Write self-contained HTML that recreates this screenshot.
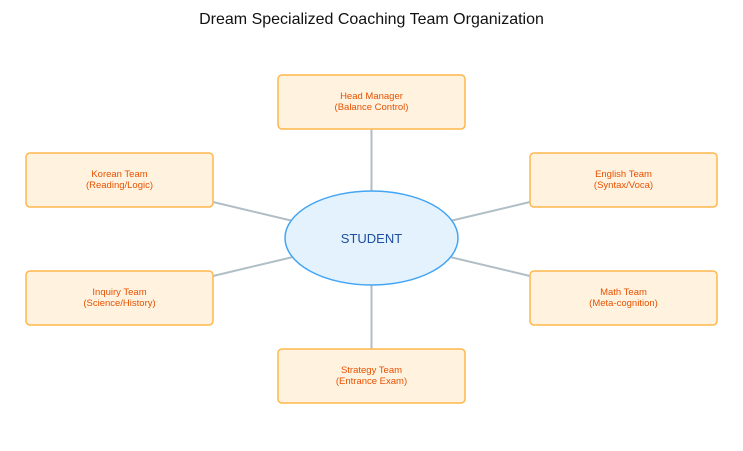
<!DOCTYPE html>
<html><head><style>
body{margin:0;width:743px;height:446px;background:#fff;overflow:hidden}
</style></head><body>
<svg width="743" height="446" xmlns="http://www.w3.org/2000/svg" font-family="Liberation Sans, sans-serif">
<text x="371.5" y="24" text-anchor="middle" font-size="16" fill="#111">Dream Specialized Coaching Team Organization</text>
<g stroke="#b0bec5" stroke-width="2">
<line x1="371.5" y1="129" x2="371.5" y2="191"/>
<line x1="371.5" y1="285" x2="371.5" y2="349"/>
<line x1="213" y1="202" x2="293" y2="221"/>
<line x1="213" y1="276" x2="293" y2="257"/>
<line x1="530" y1="202" x2="450" y2="221"/>
<line x1="530" y1="276" x2="450" y2="257"/>
</g>
<ellipse cx="371.5" cy="238" rx="86.5" ry="47" fill="#e3f2fd" stroke="#42a5f5" stroke-width="1.5"/>
<text x="371.5" y="243" text-anchor="middle" font-size="13" fill="#1e4fa0">STUDENT</text>
<g fill="#fff3e0" stroke="#ffb74d" stroke-width="1.5">
<rect x="278" y="75" width="187" height="54" rx="4"/>
<rect x="26" y="153" width="187" height="54" rx="4"/>
<rect x="530" y="153" width="187" height="54" rx="4"/>
<rect x="26" y="271" width="187" height="54" rx="4"/>
<rect x="530" y="271" width="187" height="54" rx="4"/>
<rect x="278" y="349" width="187" height="54" rx="4"/>
</g>
<g font-size="9.5" fill="#e65100" text-anchor="middle">
<text x="371.5" y="99">Head Manager</text><text x="371.5" y="110">(Balance Control)</text>
<text x="119.5" y="177">Korean Team</text><text x="119.5" y="188">(Reading/Logic)</text>
<text x="623.5" y="177">English Team</text><text x="623.5" y="188">(Syntax/Voca)</text>
<text x="119.5" y="295">Inquiry Team</text><text x="119.5" y="306">(Science/History)</text>
<text x="623.5" y="295">Math Team</text><text x="623.5" y="306">(Meta-cognition)</text>
<text x="371.5" y="373">Strategy Team</text><text x="371.5" y="384">(Entrance Exam)</text>
</g>
</svg>
</body></html>
